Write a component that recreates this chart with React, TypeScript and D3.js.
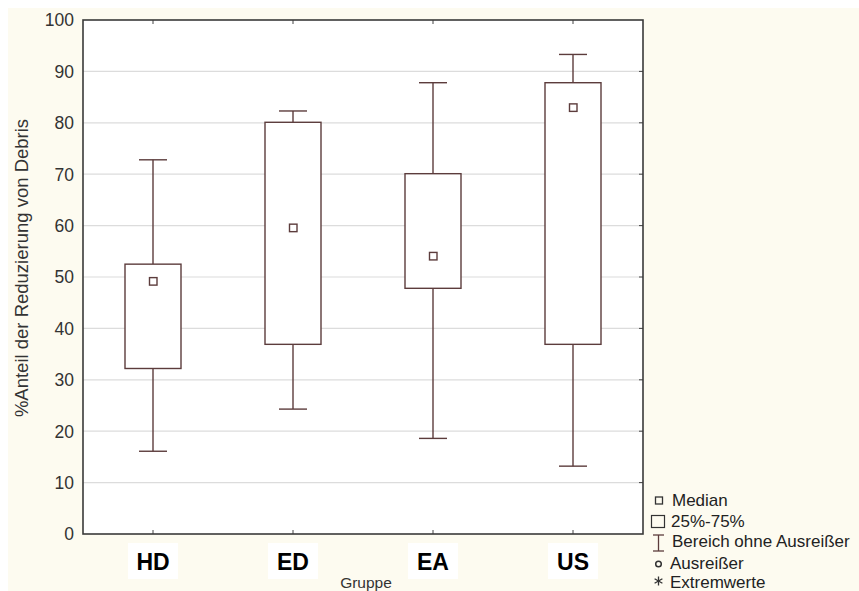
import React from 'react';
import * as d3 from 'd3';

const groups = ['HD', 'ED', 'EA', 'US'];
const whiskerMin = [16.1, 24.3, 18.6, 13.2];
const q1 = [32.2, 36.9, 47.8, 36.9];
const median = [49.2, 59.6, 54.1, 83.0];
const q3 = [52.5, 80.1, 70.1, 87.8];
const whiskerMax = [72.8, 82.3, 87.8, 93.3];
const yTicks = [0, 10, 20, 30, 40, 50, 60, 70, 80, 90, 100];
const legendLabels = ['Median', '25%-75%', 'Bereich ohne Ausreißer', 'Ausreißer', 'Extremwerte'];

const W = 859;
const H = 591;
const plot = { left: 83, right: 643, top: 20, bottom: 534 };
const boxColor = '#5c3c3c';
const font = 'Arial, "Liberation Sans", sans-serif';

export default function App() {
  const x = d3.scaleBand().domain(groups).range([plot.left, plot.right]);
  const y = d3.scaleLinear().domain([0, 100]).range([plot.bottom, plot.top]);
  const cx = (g: string) => (x(g) as number) + x.bandwidth() / 2;
  const boxW = 56;
  const capW = 28;

  // asterisk for legend, drawn as three strokes
  const star = [0, 60, 120].map(a => {
    const r = (a * Math.PI) / 180;
    return { dx: Math.sin(r) * 4.5, dy: Math.cos(r) * 4.5 };
  });

  return (
    <svg width={W} height={H} style={{ position: 'absolute', left: 0, top: 0, display: 'block' }}>
      <rect x={8} y={8} width={W} height={H} fill="#fdfbf0" />
      <rect x={plot.left} y={plot.top} width={plot.right - plot.left} height={plot.bottom - plot.top} fill="#ffffff" />
      {/* grid */}
      {yTicks.slice(1, -1).map(t => (
        <line key={t} x1={plot.left} x2={plot.right} y1={y(t)} y2={y(t)} stroke="#dcdcdc" strokeWidth={1.2} />
      ))}
      {/* y tick labels */}
      {yTicks.map(t => (
        <text key={t} x={74} y={y(t)} dy="0.36em" textAnchor="end" fontFamily={font} fontSize={17.5} fill="#333">{t}</text>
      ))}
      {/* right inner ticks */}
      {yTicks.slice(1, -1).map(t => (
        <line key={'r' + t} x1={plot.right - 4} x2={plot.right} y1={y(t)} y2={y(t)} stroke="#444" strokeWidth={1} />
      ))}
      {/* top/bottom ticks */}
      {groups.map(g => (
        <g key={'t' + g}>
          <line x1={cx(g)} x2={cx(g)} y1={plot.top} y2={plot.top + 4} stroke="#444" strokeWidth={1} />
          <line x1={cx(g)} x2={cx(g)} y1={plot.bottom} y2={plot.bottom - 4} stroke="#444" strokeWidth={1} />
        </g>
      ))}
      {/* boxes */}
      {groups.map((g, i) => {
        const c = cx(g);
        return (
          <g key={g} stroke={boxColor} strokeWidth={1.4} fill="none">
            <line x1={c} x2={c} y1={y(q3[i])} y2={y(whiskerMax[i])} />
            <line x1={c} x2={c} y1={y(q1[i])} y2={y(whiskerMin[i])} />
            <line x1={c - capW / 2} x2={c + capW / 2} y1={y(whiskerMax[i])} y2={y(whiskerMax[i])} />
            <line x1={c - capW / 2} x2={c + capW / 2} y1={y(whiskerMin[i])} y2={y(whiskerMin[i])} />
            <rect x={c - boxW / 2} y={y(q3[i])} width={boxW} height={y(q1[i]) - y(q3[i])} fill="#fff" />
            <rect x={c - 3.5} y={y(median[i]) - 3.5} width={7.5} height={7.5} fill="#fff" />
          </g>
        );
      })}
      {/* frame */}
      <rect x={plot.left} y={plot.top} width={plot.right - plot.left} height={plot.bottom - plot.top} fill="none" stroke="#3a3a3a" strokeWidth={1.6} />
      {/* category labels */}
      {groups.map(g => (
        <g key={'l' + g}>
          <rect x={cx(g) - 25} y={543} width={50} height={36} fill="#fff" />
          <text x={cx(g)} y={570} textAnchor="middle" fontFamily={font} fontWeight="bold" fontSize={23} fill="#000">{g}</text>
        </g>
      ))}
      <text x={366} y={588} textAnchor="middle" fontFamily={font} fontSize={15.5} fill="#333">Gruppe</text>
      <text transform={`translate(28,268) rotate(-90)`} textAnchor="middle" fontFamily={font} fontSize={18.5} fill="#333">%Anteil der Reduzierung von Debris</text>
      {/* legend */}
      <g fontFamily={font} fontSize={17} fill="#222">
        <rect x={655.5} y={497} width={7} height={7} fill="none" stroke="#333" strokeWidth={1.3} />
        <text x={672} y={506}>{legendLabels[0]}</text>
        <rect x={651.5} y={515.5} width={13} height={12} fill="none" stroke="#333" strokeWidth={1.2} />
        <text x={671} y={527}>{legendLabels[1]}</text>
        <g stroke={boxColor} strokeWidth={1.3}>
          <line x1={653} x2={664} y1={535} y2={535} />
          <line x1={653} x2={664} y1={551} y2={551} />
          <line x1={658.5} x2={658.5} y1={535} y2={551} />
        </g>
        <text x={672} y={547}>{legendLabels[2]}</text>
        <circle cx={658.5} cy={564} r={2.8} fill="none" stroke="#333" strokeWidth={1.5} />
        <text x={670} y={569}>{legendLabels[3]}</text>
        <g stroke="#333" strokeWidth={1.3}>
          {star.map((s, k) => (
            <line key={k} x1={658.5 - s.dx} x2={658.5 + s.dx} y1={581 - s.dy} y2={581 + s.dy} />
          ))}
        </g>
        <text x={670} y={588}>{legendLabels[4]}</text>
      </g>
    </svg>
  );
}
